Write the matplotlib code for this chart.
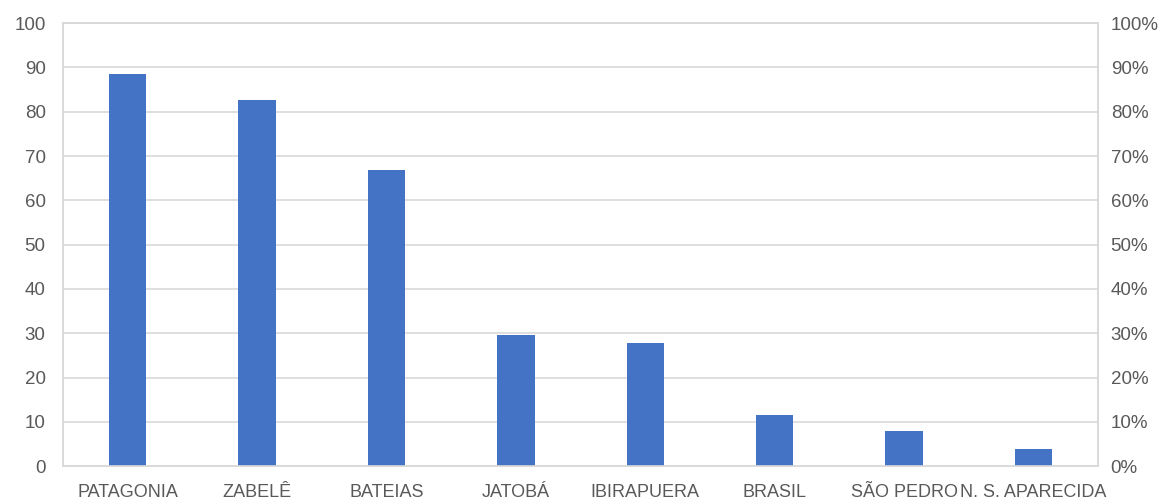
import matplotlib.pyplot as plt
from matplotlib.ticker import PercentFormatter

# --- Data ---
categories = ['PATAGONIA', 'ZABELÊ', 'BATEIAS', 'JATOBÁ', 'IBIRAPUERA',
              'BRASIL', 'SÃO PEDRO', 'N. S. APARECIDA']
values = [88.6, 82.7, 66.9, 29.6, 27.8, 11.5, 7.9, 3.8]
left_ticks = [0, 10, 20, 30, 40, 50, 60, 70, 80, 90, 100]
right_ticks = [0, 0.1, 0.2, 0.3, 0.4, 0.5, 0.6, 0.7, 0.8, 0.9, 1.0]

plt.rcParams['font.family'] = ['Liberation Sans', 'DejaVu Sans']
text_color = '#595959'
grid_color = '#d9d9d9'

fig = plt.figure(figsize=(11.67, 5.04), dpi=100)
ax = fig.add_axes([0.054, 0.075, 0.887, 0.879])

x = range(len(categories))
ax.bar(x, values, width=0.29, color='#4472C4', zorder=3)

ax.set_xlim(-0.5, len(categories) - 0.5)
ax.set_ylim(0, 100)
ax.set_yticks(left_ticks)
ax.set_xticks(list(x))
ax.set_xticklabels(categories)
ax.yaxis.grid(True, color=grid_color, linewidth=1.2, zorder=0)
ax.tick_params(axis='y', length=0, pad=12.5, labelsize=13.5, labelcolor=text_color)
ax.tick_params(axis='x', length=0, pad=12.5, labelsize=13, labelcolor=text_color)
for s in ax.spines.values():
    s.set_color(grid_color)
    s.set_linewidth(1.2)

# secondary percentage axis
ax2 = ax.twinx()
ax2.set_ylim(0, 1)
ax2.set_yticks(right_ticks)
ax2.yaxis.set_major_formatter(PercentFormatter(1.0, decimals=0))
ax2.tick_params(axis='y', length=0, pad=9, labelsize=13.5, labelcolor=text_color)
for s in ax2.spines.values():
    s.set_color(grid_color)
    s.set_linewidth(1.2)

fig.savefig('out.png', dpi=100)
